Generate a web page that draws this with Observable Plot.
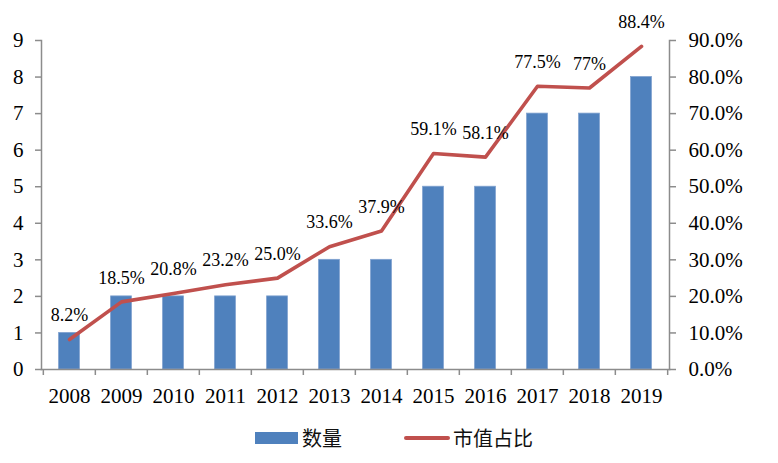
<!DOCTYPE html>
<html>
<head>
<meta charset="utf-8">
<script src="https://cdn.jsdelivr.net/npm/d3@7"></script>
<script src="https://cdn.jsdelivr.net/npm/@observablehq/plot@0.6"></script>
<style>
  html, body { margin: 0; padding: 0; background: #ffffff; }
  #wrap { position: relative; width: 778px; height: 463px; overflow: hidden; }
  #chart { position: absolute; left: 0; top: 0; }
  #legend { position: absolute; left: 0; top: 415px; width: 778px; height: 48px;
            font-family: "Noto Sans CJK SC", sans-serif; font-size: 20px; color: #111; }
  .sw-bar { position: absolute; left: 255px; top: 17px; width: 43px; height: 12px; background: #4F81BD; }
  .sw-line { position: absolute; left: 404px; top: 21px; width: 46px; height: 4px; border-radius: 2px; background: #C0504D; }
  .lab { position: absolute; top: 8px; line-height: 30px; }
</style>
</head>
<body>
<div id="wrap">
  <div id="chart"></div>
  <div id="legend"></div>
</div>
<script>
const years = ["2008","2009","2010","2011","2012","2013","2014","2015","2016","2017","2018","2019"];
const counts = [1, 2, 2, 2, 2, 3, 3, 5, 5, 7, 7, 8];
const shares = [8.2, 18.5, 20.8, 23.2, 25.0, 33.6, 37.9, 59.1, 58.1, 77.5, 77, 88.4];
const shareLabels = ["8.2%","18.5%","20.8%","23.2%","25.0%","33.6%","37.9%","59.1%","58.1%","77.5%","77%","88.4%"];
const leftTicks = [0, 1, 2, 3, 4, 5, 6, 7, 8, 9];
const rightTickLabels = ["0.0%","10.0%","20.0%","30.0%","40.0%","50.0%","60.0%","70.0%","80.0%","90.0%"];
const seriesNames = ["数量", "市值占比"];

const W = 778, H = 415;
const mL = 41, mR = 109, mT = 40, mB = 46;
const bw = (W - mL - mR) / years.length;
const serif = "'Liberation Serif', 'Times New Roman', serif";
const axisColor = "#8c8c8c";
const rightMax = 90, leftMax = 9;

const table = years.map((y, i) => ({
  year: y, count: counts[i], share: shares[i] * leftMax / rightMax, label: shareLabels[i]
}));

const chart = Plot.plot({
  width: W, height: H,
  marginLeft: mL, marginRight: mR, marginTop: mT, marginBottom: mB,
  style: { fontFamily: serif, background: "transparent", overflow: "visible" },
  x: { type: "band", domain: years, padding: 0, label: null },
  y: { domain: [0, leftMax], label: null },
  marks: [
    Plot.barY(table, { x: "year", y: "count", fill: "#4F81BD", stroke: "#7FA1CF", strokeWidth: 0.8,
                       insetLeft: 15.6, insetRight: 15.6 }),
    Plot.frame({ anchor: "left", stroke: axisColor, strokeWidth: 1.5 }),
    Plot.frame({ anchor: "right", stroke: axisColor, strokeWidth: 1.5 }),
    Plot.frame({ anchor: "bottom", stroke: axisColor, strokeWidth: 1.5 }),
    Plot.ruleX(years, { x: d => d, y1: 0, y2: -leftMax * 6 / (H - mT - mB), dx: -bw / 2, stroke: axisColor, strokeWidth: 1.5 }),
    Plot.ruleX(years.slice(-1), { x: d => d, y1: 0, y2: -leftMax * 6 / (H - mT - mB), dx: bw / 2, stroke: axisColor, strokeWidth: 1.5 }),
    Plot.axisY(leftTicks, { anchor: "left", tickSize: 6, tickPadding: 12, fontSize: 21, label: null,
                            stroke: axisColor, strokeWidth: 1.5, fill: "#000", tickFormat: d => String(d) }),
    Plot.axisY(leftTicks, { anchor: "right", tickSize: 6, tickPadding: 13, fontSize: 21, label: null,
                            stroke: axisColor, strokeWidth: 1.5, fill: "#000",
                            tickFormat: d => rightTickLabels[leftTicks.indexOf(d)] }),
    Plot.axisX({ anchor: "bottom", tickSize: 0, tickPadding: 19, fontSize: 21, fill: "#000", label: null }),
    Plot.lineY(table, { x: "year", y: "share", stroke: "#C0504D", strokeWidth: 3.6,
                        strokeLinecap: "round", strokeLinejoin: "round" }),
    Plot.text(table, { x: "year", y: "share", text: "label", dy: -24, fontSize: 18, fill: "#000" })
  ]
});
document.getElementById("chart").appendChild(chart);

const legend = document.getElementById("legend");
legend.innerHTML =
  `<div class="sw-bar"></div><div class="lab" style="left:302px">${seriesNames[0]}</div>` +
  `<div class="sw-line"></div><div class="lab" style="left:453px">${seriesNames[1]}</div>`;
</script>
</body>
</html>
